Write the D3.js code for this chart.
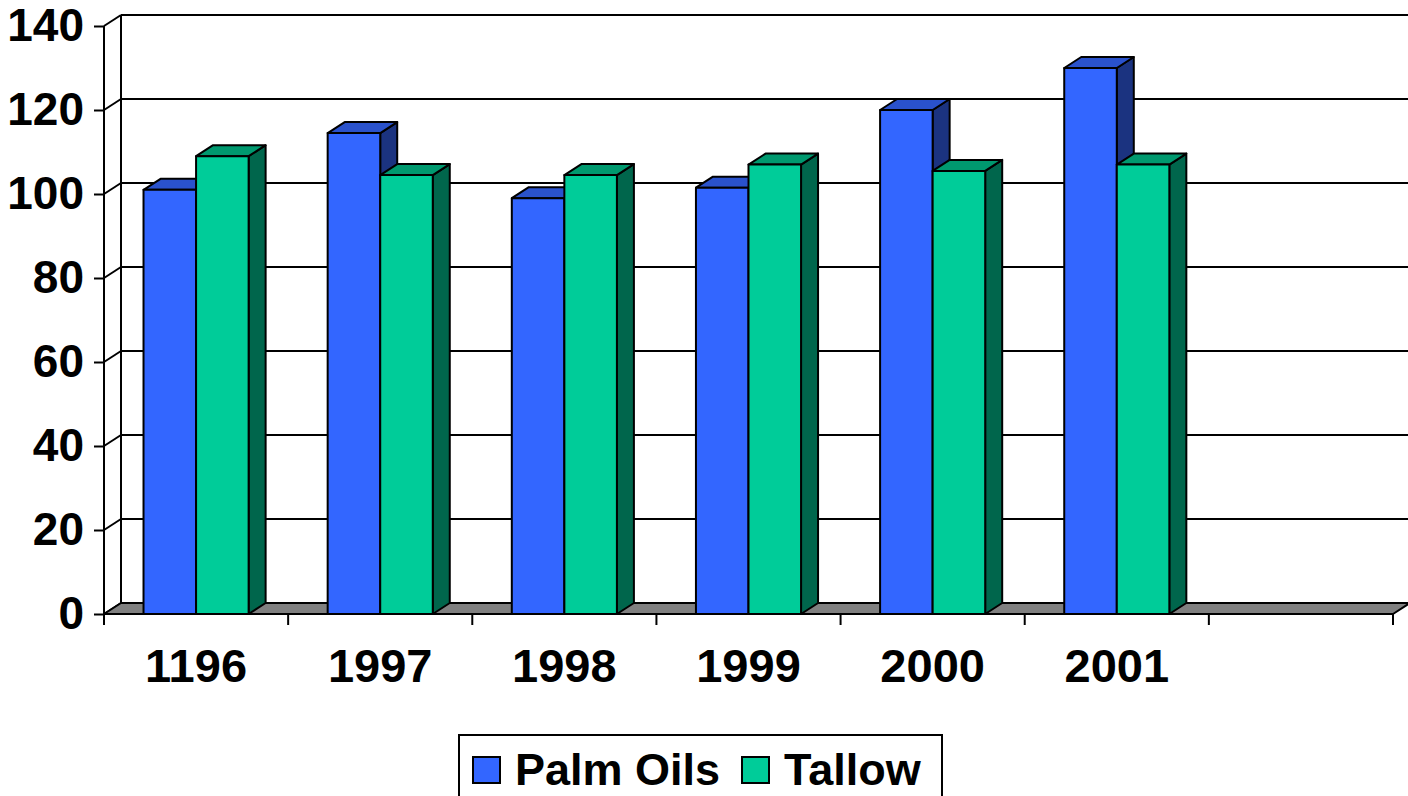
<!DOCTYPE html>
<html>
<head>
<meta charset="utf-8">
<script src="https://cdn.jsdelivr.net/npm/d3@7"></script>
<style>
  body { margin: 0; background: #fff; }
  svg text { font-family: 'Liberation Sans', Arial, sans-serif; font-weight: bold; fill: #000; }
</style>
</head>
<body>
<div id="chart"></div>
<script>
const categories = ['1196', '1997', '1998', '1999', '2000', '2001', ''];
const seriesNames = ['Palm Oils', 'Tallow'];
const palmOils = [101, 114.5, 99, 101.5, 120, 130, null];
const tallow = [109, 104.5, 104.5, 107, 105.5, 107, null];
const yTicks = [0, 20, 40, 60, 80, 100, 120, 140];

const colors = {
  'Palm Oils': { front: '#3366ff', top: '#2a52cc', side: '#1b3380' },
  Tallow: { front: '#00cc99', top: '#00996f', side: '#00664c' },
};

const svg = d3
  .select('#chart')
  .append('svg')
  .attr('width', 1408)
  .attr('height', 796);

const depth = { dx: 17, dy: -11 };

const xScale = d3.scaleBand().domain(categories).range([104, 1393]);
const seriesScale = d3
  .scaleBand()
  .domain(seriesNames)
  .range([0, xScale.bandwidth()])
  .paddingOuter(0.752);
const yScale = d3.scaleLinear().domain([0, 140]).range([614, 26]);

const x0 = xScale.range()[0];
const x1 = xScale.range()[1];
const y0 = yScale(0);

const walls = svg.append('g').attr('id', 'walls');

// back wall gridlines
walls
  .selectAll('line.grid')
  .data(yTicks.filter((d) => d > 0))
  .join('line')
  .attr('class', 'grid')
  .attr('x1', x0 + depth.dx)
  .attr('x2', 1408)
  .attr('y1', (d) => yScale(d) + depth.dy)
  .attr('y2', (d) => yScale(d) + depth.dy)
  .attr('stroke', '#000')
  .attr('stroke-width', 2);

// side wall diagonals
walls
  .selectAll('line.diag')
  .data(yTicks)
  .join('line')
  .attr('class', 'diag')
  .attr('x1', x0)
  .attr('x2', x0 + depth.dx)
  .attr('y1', (d) => yScale(d))
  .attr('y2', (d) => yScale(d) + depth.dy)
  .attr('stroke', '#000')
  .attr('stroke-width', 2);

walls
  .append('line')
  .attr('x1', x0 + depth.dx)
  .attr('x2', x0 + depth.dx)
  .attr('y1', yScale(140) + depth.dy)
  .attr('y2', y0 + depth.dy)
  .attr('stroke', '#000')
  .attr('stroke-width', 2);

// floor
walls
  .append('path')
  .attr(
    'd',
    `M${x0},${y0}L${x1},${y0}L${x1 + depth.dx},${y0 + depth.dy}L${x0 + depth.dx},${y0 + depth.dy}Z`
  )
  .attr('fill', '#808080')
  .attr('stroke', '#000')
  .attr('stroke-width', 2)
  .attr('stroke-linejoin', 'round');

// y axis
const leftAxis = d3.axisLeft(yScale).tickValues(yTicks).tickSize(10).tickPadding(10);
const yAxisG = svg
  .append('g')
  .attr('transform', `translate(${x0},0)`)
  .call(leftAxis);
yAxisG.select('.domain').attr('stroke-width', 2).attr('d', `M0,${yScale(140)}V${y0}`);
yAxisG.selectAll('.tick line').attr('stroke-width', 2);
yAxisG
  .selectAll('.tick text')
  .attr('font-size', 46)
  .attr('font-family', "'Liberation Sans', Arial, sans-serif")
  .attr('font-weight', 'bold');

// x axis ticks at category boundaries
const boundaries = categories.map((c) => xScale(c)).concat([x1]);
svg
  .append('g')
  .selectAll('line')
  .data(boundaries)
  .join('line')
  .attr('x1', (d) => d)
  .attr('x2', (d) => d)
  .attr('y1', y0)
  .attr('y2', y0 + 11)
  .attr('stroke', '#000')
  .attr('stroke-width', 2);

svg
  .append('g')
  .selectAll('text')
  .data(categories)
  .join('text')
  .attr('x', (d) => xScale(d) + xScale.bandwidth() / 2)
  .attr('y', 682)
  .attr('text-anchor', 'middle')
  .attr('font-size', 47)
  .text((d) => d);

// bars
const bars = [];
categories.forEach((c, i) => {
  [palmOils, tallow].forEach((vals, s) => {
    if (vals[i] !== null) bars.push({ cat: c, series: seriesNames[s], value: vals[i] });
  });
});

const barG = svg
  .append('g')
  .attr('id', 'bars')
  .selectAll('g')
  .data(bars)
  .join('g')
  .attr('stroke', '#000')
  .attr('stroke-width', 2)
  .attr('stroke-linejoin', 'round');

function barGeom(d) {
  const left = xScale(d.cat) + seriesScale(d.series);
  const right = left + seriesScale.bandwidth();
  const top = yScale(d.value);
  return { left, right, top };
}

barG
  .append('path')
  .attr('fill', (d) => colors[d.series].side)
  .attr('d', (d) => {
    const g = barGeom(d);
    return `M${g.right},${y0}L${g.right},${g.top}L${g.right + depth.dx},${g.top + depth.dy}L${g.right + depth.dx},${y0 + depth.dy}Z`;
  });

barG
  .append('path')
  .attr('fill', (d) => colors[d.series].top)
  .attr('d', (d) => {
    const g = barGeom(d);
    return `M${g.left},${g.top}L${g.left + depth.dx},${g.top + depth.dy}L${g.right + depth.dx},${g.top + depth.dy}L${g.right},${g.top}Z`;
  });

barG
  .append('rect')
  .attr('fill', (d) => colors[d.series].front)
  .attr('x', (d) => barGeom(d).left)
  .attr('y', (d) => barGeom(d).top)
  .attr('width', seriesScale.bandwidth())
  .attr('height', (d) => y0 - barGeom(d).top);

// legend
const legend = svg.append('g').attr('id', 'legend');
legend
  .append('rect')
  .attr('x', 459)
  .attr('y', 735)
  .attr('width', 483)
  .attr('height', 80)
  .attr('fill', '#fff')
  .attr('stroke', '#000')
  .attr('stroke-width', 2);

const legendItems = [
  { name: 'Palm Oils', x: 473 },
  { name: 'Tallow', x: 742 },
];
legend
  .selectAll('rect.swatch')
  .data(legendItems)
  .join('rect')
  .attr('class', 'swatch')
  .attr('x', (d) => d.x)
  .attr('y', 757)
  .attr('width', 27)
  .attr('height', 26)
  .attr('fill', (d) => colors[d.name].front)
  .attr('stroke', '#000')
  .attr('stroke-width', 2);
legend
  .selectAll('text')
  .data(legendItems)
  .join('text')
  .attr('x', (d) => d.x + 42)
  .attr('y', 785)
  .attr('font-size', 45)
  .text((d) => d.name);
</script>
</body>
</html>
